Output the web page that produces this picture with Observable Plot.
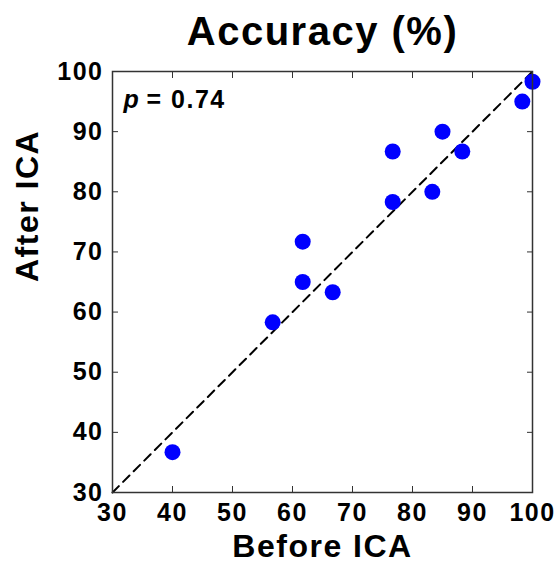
<!DOCTYPE html>
<html>
<head>
<meta charset="utf-8">
<script src="https://cdn.jsdelivr.net/npm/d3@7"></script>
<script src="https://cdn.jsdelivr.net/npm/@observablehq/plot@0.6"></script>
<style>
  html, body { margin: 0; padding: 0; background: #fff; }
  #chart { width: 556px; height: 564px; }
</style>
</head>
<body>
<div id="chart"></div>
<script>
const beforeICA = [40, 56.7, 61.7, 61.7, 66.7, 76.7, 76.7, 83.3, 85, 88.3, 98.3, 100];
const afterICA  = [36.7, 58.3, 65, 71.7, 63.3, 78.3, 86.7, 80, 90, 86.7, 95, 98.3];
const tickValues = [30, 40, 50, 60, 70, 80, 90, 100];
const diagonal = [30, 100];
const titleText = "Accuracy (%)";
const xLabel = "Before ICA";
const yLabel = "After ICA";
const pLabel = "= 0.74";

const points = beforeICA.map((b, i) => ({before: b, after: afterICA[i]}));
const font = "'Liberation Sans', Arial, Helvetica, sans-serif";

const chart = Plot.plot({
  width: 556,
  height: 564,
  marginLeft: 112,
  marginRight: 24,
  marginTop: 71,
  marginBottom: 72,
  style: {fontFamily: font, fontWeight: "bold", fontSize: "25px", color: "#000", background: "#fff", letterSpacing: "1.5px"},
  x: {domain: [30, 100]},
  y: {domain: [30, 100]},
  marks: [
    Plot.line(diagonal, {x: d => d, y: d => d, stroke: "#000", strokeWidth: 2, strokeDasharray: "9,6"}),
    Plot.dot(points, {x: "before", y: "after", r: 8, fill: "#0000ff", stroke: "none"}),
    Plot.frame({stroke: "#333", strokeWidth: 1.5}),
    Plot.axisX({ticks: tickValues, tickSize: -6, tickPadding: 17, label: null, fontSize: 25, stroke: "#333"}),
    Plot.axisX({anchor: "top", ticks: tickValues, tickSize: -6, tickFormat: () => "", label: null, stroke: "#333"}),
    Plot.axisY({ticks: tickValues, tickSize: -6, tickPadding: 15, label: null, fontSize: 25, stroke: "#333"}),
    Plot.axisY({anchor: "right", ticks: tickValues, tickSize: -6, tickFormat: () => "", label: null, stroke: "#333"}),
    Plot.text([titleText], {text: d => d, frameAnchor: "top", dy: -27, lineAnchor: "bottom", fontSize: 40, fontWeight: "bold"}),
    Plot.text([xLabel], {text: d => d, frameAnchor: "bottom", dy: 64, lineAnchor: "bottom", fontSize: 32, fontWeight: "bold"}),
    Plot.text([yLabel], {text: d => d, frameAnchor: "left", dx: -75, rotate: -90, lineAnchor: "bottom", fontSize: 32, fontWeight: "bold"}),
    Plot.text(["p"], {text: d => d, frameAnchor: "top-left", dx: 11, dy: 36, lineAnchor: "bottom", textAnchor: "start", fontSize: 25, fontWeight: "bold", fontStyle: "italic"}),
    Plot.text([pLabel], {text: d => d, frameAnchor: "top-left", dx: 34, dy: 36, lineAnchor: "bottom", textAnchor: "start", fontSize: 25, fontWeight: "bold"})
  ]
});
document.getElementById("chart").appendChild(chart);
</script>
</body>
</html>
